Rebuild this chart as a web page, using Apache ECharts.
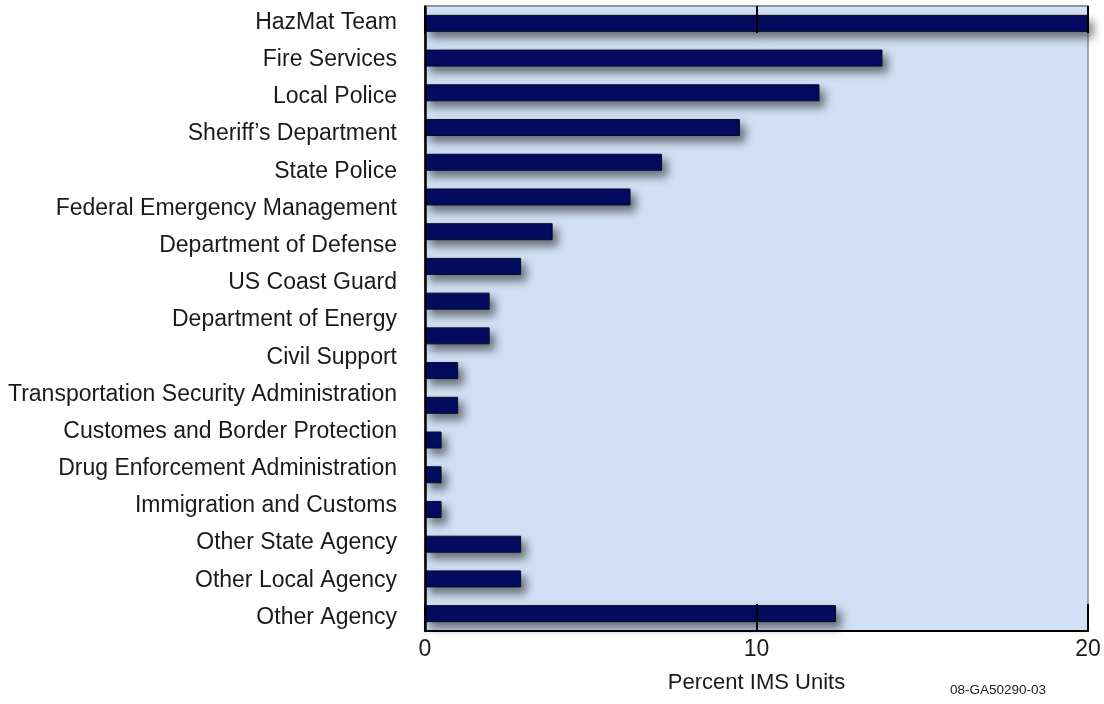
<!DOCTYPE html>
<html>
<head>
<meta charset="utf-8">
<script src="https://cdn.jsdelivr.net/npm/echarts@6/dist/echarts.min.js"></script>
<style>
html,body{margin:0;padding:0;background:#fff;}
#c{width:1104px;height:704px;}
</style>
</head>
<body>
<div id="c"></div>
<script>
// Agency labels as printed on the left (17 labels)
var agencyLabels = [
  "HazMat Team",
  "Fire Services",
  "Local Police",
  "Sheriff\u2019s Department",
  "State Police",
  "Federal Emergency Management",
  "Department of Defense",
  "US Coast Guard",
  "Department of Energy",
  "Civil Support",
  "Transportation Security Administration",
  "Customes and Border Protection",
  "Drug Enforcement Administration",
  "Immigration and Customs",
  "Other State Agency",
  "Other Local Agency",
  "Other Agency"
];
// Bar values (18 bars drawn in the original, top to bottom), percent IMS units
var barValues = [20, 13.8, 11.9, 9.5, 7.15, 6.2, 3.85, 2.9, 1.95, 1.95, 1.0, 1.0, 0.5, 0.5, 0.5, 2.9, 2.9, 12.4];
var barSlots = ["b1","b2","b3","b4","b5","b6","b7","b8","b9","b10","b11","b12","b13","b14","b15","b16","b17","b18"];
var xMin = 0, xMax = 20, xStep = 10;
var axisTitle = "Percent IMS Units";
var footnote = "08-GA50290-03";

var chart = echarts.init(document.getElementById('c'));
var font = "'Liberation Sans', Arial, Helvetica, sans-serif";
chart.setOption({
  animation: false,
  textStyle: { fontFamily: font },
  grid: [
    {
      left: 425, right: 16, top: 6, bottom: 73, outerBoundsMode: 'none', containLabel: false,
      show: true, backgroundColor: '#d1e0f4', borderColor: '#8a8f99', borderWidth: 1.5
    },
    { left: 425, right: 16, top: 4, bottom: 68, outerBoundsMode: 'none', containLabel: false, show: false }
  ],
  xAxis: [
    {
      type: 'value', gridIndex: 0, position: 'bottom', min: xMin, max: xMax, interval: xStep, z: 5,
      axisLine: { show: true, lineStyle: { color: '#000', width: 2 } },
      axisTick: { show: true, inside: true, length: 27, lineStyle: { color: '#000', width: 2 } },
      splitLine: { show: false },
      axisLabel: { fontSize: 23, color: '#1a1a1a', margin: 7, fontFamily: font },
      name: axisTitle, nameLocation: 'middle', nameGap: 41,
      nameTextStyle: { fontSize: 22, color: '#1a1a1a', fontFamily: font }
    },
    {
      type: 'value', gridIndex: 0, position: 'top', min: xMin, max: xMax, interval: xStep, z: 5,
      axisLine: { show: true, lineStyle: { color: '#8a8f99', width: 1.5 } },
      axisTick: { show: true, inside: true, length: 27, lineStyle: { color: '#000', width: 2 } },
      splitLine: { show: false },
      axisLabel: { show: false }
    },
    {
      type: 'value', gridIndex: 1, min: xMin, max: xMax, show: false
    }
  ],
  yAxis: [
    {
      type: 'category', gridIndex: 0, data: barSlots, inverse: true, position: 'left', z: 5,
      axisLine: { show: true, onZero: false, lineStyle: { color: '#000', width: 2.5 } },
      axisTick: { show: false },
      axisLabel: { show: false }
    },
    {
      type: 'category', gridIndex: 1, data: agencyLabels, inverse: true, position: 'left',
      axisLine: { show: false },
      axisTick: { show: false },
      axisLabel: { fontSize: 23, color: '#1a1a1a', margin: 28, fontFamily: font }
    }
  ],
  series: [
    {
      type: 'bar', xAxisIndex: 0, yAxisIndex: 0,
      data: barValues, barWidth: 17,
      itemStyle: {
        color: '#030c63', borderColor: '#0a0a1e', borderWidth: 1,
        shadowColor: 'rgba(0,0,0,0.5)', shadowBlur: 9, shadowOffsetX: 5, shadowOffsetY: 6
      }
    }
  ],
  graphic: [
    {
      type: 'text', left: 950, top: 683,
      style: { text: footnote, fontSize: 13.5, fill: '#222', fontFamily: font }
    }
  ]
});
</script>
</body>
</html>
